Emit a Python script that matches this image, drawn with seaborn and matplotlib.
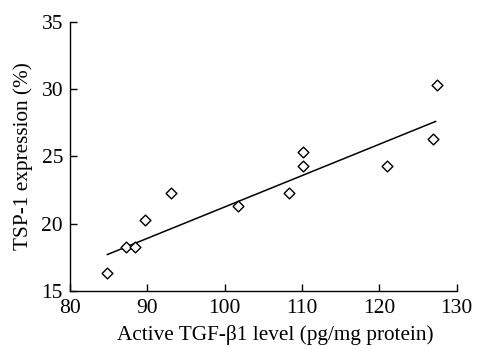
import pandas as pd
import seaborn as sns
import matplotlib.pyplot as plt

# values
tgf_level = [84.8, 87.3, 88.4, 89.7, 93.0, 101.7, 108.3, 110.1, 110.1, 121.0, 127.0, 127.4]
tsp1_expr = [16.3, 18.3, 18.3, 20.3, 22.3, 21.3, 22.3, 25.3, 24.3, 24.3, 26.3, 30.3]

# end points of the drawn regression line
fit_x = [84.8, 127.3]
fit_y = [17.7, 27.6]

x_ticks = [80, 90, 100, 110, 120, 130]
y_ticks = [15, 20, 25, 30, 35]

data = pd.DataFrame({'tgf': tgf_level, 'tsp': tsp1_expr})
fit = pd.DataFrame({'tgf': fit_x, 'tsp': fit_y})

sns.set_style('ticks')
plt.rcParams['font.family'] = ['Liberation Serif', 'DejaVu Serif']
plt.rcParams['xtick.direction'] = 'in'
plt.rcParams['ytick.direction'] = 'in'

fig = plt.figure(figsize=(4.78, 3.49), dpi=100)
ax = fig.add_axes([0.1464, 0.1662, 0.809, 0.7716])

sns.lineplot(x='tgf', y='tsp', data=fit, color='black', linewidth=1.1, ax=ax)
sns.scatterplot(x='tgf', y='tsp', data=data, marker='D', s=30,
                facecolor='white', edgecolor='black', linewidth=1.0, ax=ax, zorder=3)

ax.set_xlim(80, 130)
ax.set_ylim(15, 35)
ax.set_xticks(x_ticks)
ax.set_yticks(y_ticks)
ax.tick_params(labelsize=15.5, length=5, width=1.0, colors='black')
ax.tick_params(axis='x', pad=5.5)
ax.tick_params(axis='y', pad=5)
ax.set_xlabel('Active TGF-\u03b21 level (pg/mg protein)', fontsize=15.3,
              color='black', labelpad=5)
ax.xaxis.label.set_x(0.53)
ax.set_ylabel('TSP-1 expression (%)', fontsize=15.3, color='black', labelpad=6)
sns.despine(ax=ax)
for sp in ax.spines.values():
    sp.set_linewidth(1.0)
    sp.set_color('black')

fig.savefig('out.png', dpi=100)
